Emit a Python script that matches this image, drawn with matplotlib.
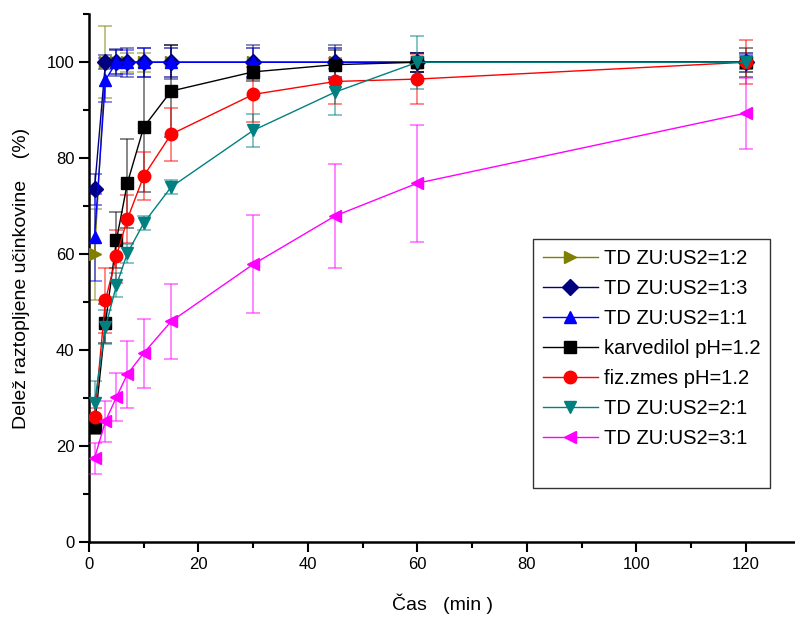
import matplotlib.pyplot as plt
from matplotlib.lines import Line2D
from matplotlib.ticker import MultipleLocator

plt.rcParams['font.family'] = ['Liberation Sans', 'DejaVu Sans']

t = [1, 3, 5, 7, 10, 15, 30, 45, 60, 120]

td_12 = [60, 100, 100, 100, 100, 100, 100, 100, 100, 100]
td_12_err = [9.5, 7.5, 2.5, 2, 2, 3, 3, 3, 2, 2]

td_13 = [73.5, 100, 100, 100, 100, 100, 100, 100, 100, 100]
td_13_err = [3.3, 1.5, 2.8, 3, 3, 3.5, 3.5, 3.5, 2, 2]

td_11 = [63.5, 96.3, 100, 100, 100, 100, 100, 100, 100, 100]
td_11_err = [9, 4.5, 2.5, 2.5, 3, 3, 3, 3, 2, 1.5]

karv = [24, 45.6, 62.9, 74.8, 86.5, 94, 98, 99.5, 100, 100]
karv_err = [1.5, 4, 5.8, 9.3, 13.5, 9.5, 2, 3, 2, 3]

fiz = [26, 50.4, 59.6, 67.3, 76.3, 85, 93.3, 96, 96.5, 100]
fiz_err = [2, 6.8, 5.5, 5, 5, 5.5, 5.8, 4.8, 5.3, 4.6]

td_21 = [29, 44.8, 53.5, 60.2, 66.5, 74, 85.8, 93.8, 100, 100]
td_21_err = [4.5, 3.5, 2.5, 2, 1.5, 1.5, 3.5, 4.8, 5.5, 1]

td_31 = [17.5, 25.2, 30.2, 35, 39.4, 46, 57.9, 68, 74.8, 89.4]
td_31_err = [3.2, 4.3, 5, 7, 7.2, 7.8, 10.2, 10.8, 12.2, 7.4]

# (label, values, errors, colour, marker)
series = [
    ('TD ZU:US2=1:2', td_12, td_12_err, '#808000', '>'),
    ('TD ZU:US2=1:3', td_13, td_13_err, '#000080', 'D'),
    ('TD ZU:US2=1:1', td_11, td_11_err, '#0000FF', '^'),
    ('karvedilol pH=1.2', karv, karv_err, '#000000', 's'),
    ('fiz.zmes pH=1.2', fiz, fiz_err, '#FF0000', 'o'),
    ('TD ZU:US2=2:1', td_21, td_21_err, '#008080', 'v'),
    ('TD ZU:US2=3:1', td_31, td_31_err, '#FF00FF', '<'),
]
draw_order = [6, 5, 4, 3, 2, 0, 1]

fig = plt.figure(figsize=(7.95, 6.21), dpi=100)
ax = fig.add_axes([0.112, 0.127, 0.888, 0.85])

for i in draw_order:
    label, y, err, col, mk = series[i]
    ms = 8 if mk == 'D' else 9
    ax.errorbar(t, y, yerr=err, fmt='none', ecolor=col, alpha=0.55,
                elinewidth=1.2, capsize=5, capthick=1.2, zorder=2 + i * 0.1)
    ax.plot(t, y, color=col, lw=1, marker=mk, ms=ms, mec=col, mfc=col,
            zorder=3 + i * 0.1)

ax.set_xlim(0, 129)
ax.set_ylim(0, 110)
ax.xaxis.set_major_locator(MultipleLocator(20))
ax.xaxis.set_minor_locator(MultipleLocator(10))
ax.yaxis.set_major_locator(MultipleLocator(20))
ax.yaxis.set_minor_locator(MultipleLocator(10))
ax.tick_params(which='major', direction='out', length=7, width=1.5, labelsize=12)
ax.tick_params(which='minor', direction='out', length=4, width=1.5)
ax.spines['top'].set_visible(False)
ax.spines['right'].set_visible(False)
ax.spines['left'].set_linewidth(1.8)
ax.spines['bottom'].set_linewidth(1.8)

ax.set_xlabel('Čas   (min )', fontsize=14, labelpad=16)
ax.set_ylabel('Delež raztopljene učinkovine    (%)', fontsize=14, labelpad=12)

handles = [Line2D([], [], color=c, lw=1, marker=m, ms=9 if m != 'D' else 8,
                  mfc=c, mec=c) for _, _, _, c, m in series]
labels = [s[0] for s in series]
# blank row at the bottom of the key
handles.append(Line2D([], [], color='none'))
labels.append(' ')
leg = ax.legend(handles, labels, loc='upper left', bbox_to_anchor=(0.629, 0.575),
                fontsize=14.5, frameon=True, fancybox=False, edgecolor='black',
                handlelength=2.7, handletextpad=0.3, labelspacing=0.55,
                borderpad=0.5, borderaxespad=0)
leg.get_frame().set_linewidth(1.0)

fig.savefig('out.png', dpi=100)
